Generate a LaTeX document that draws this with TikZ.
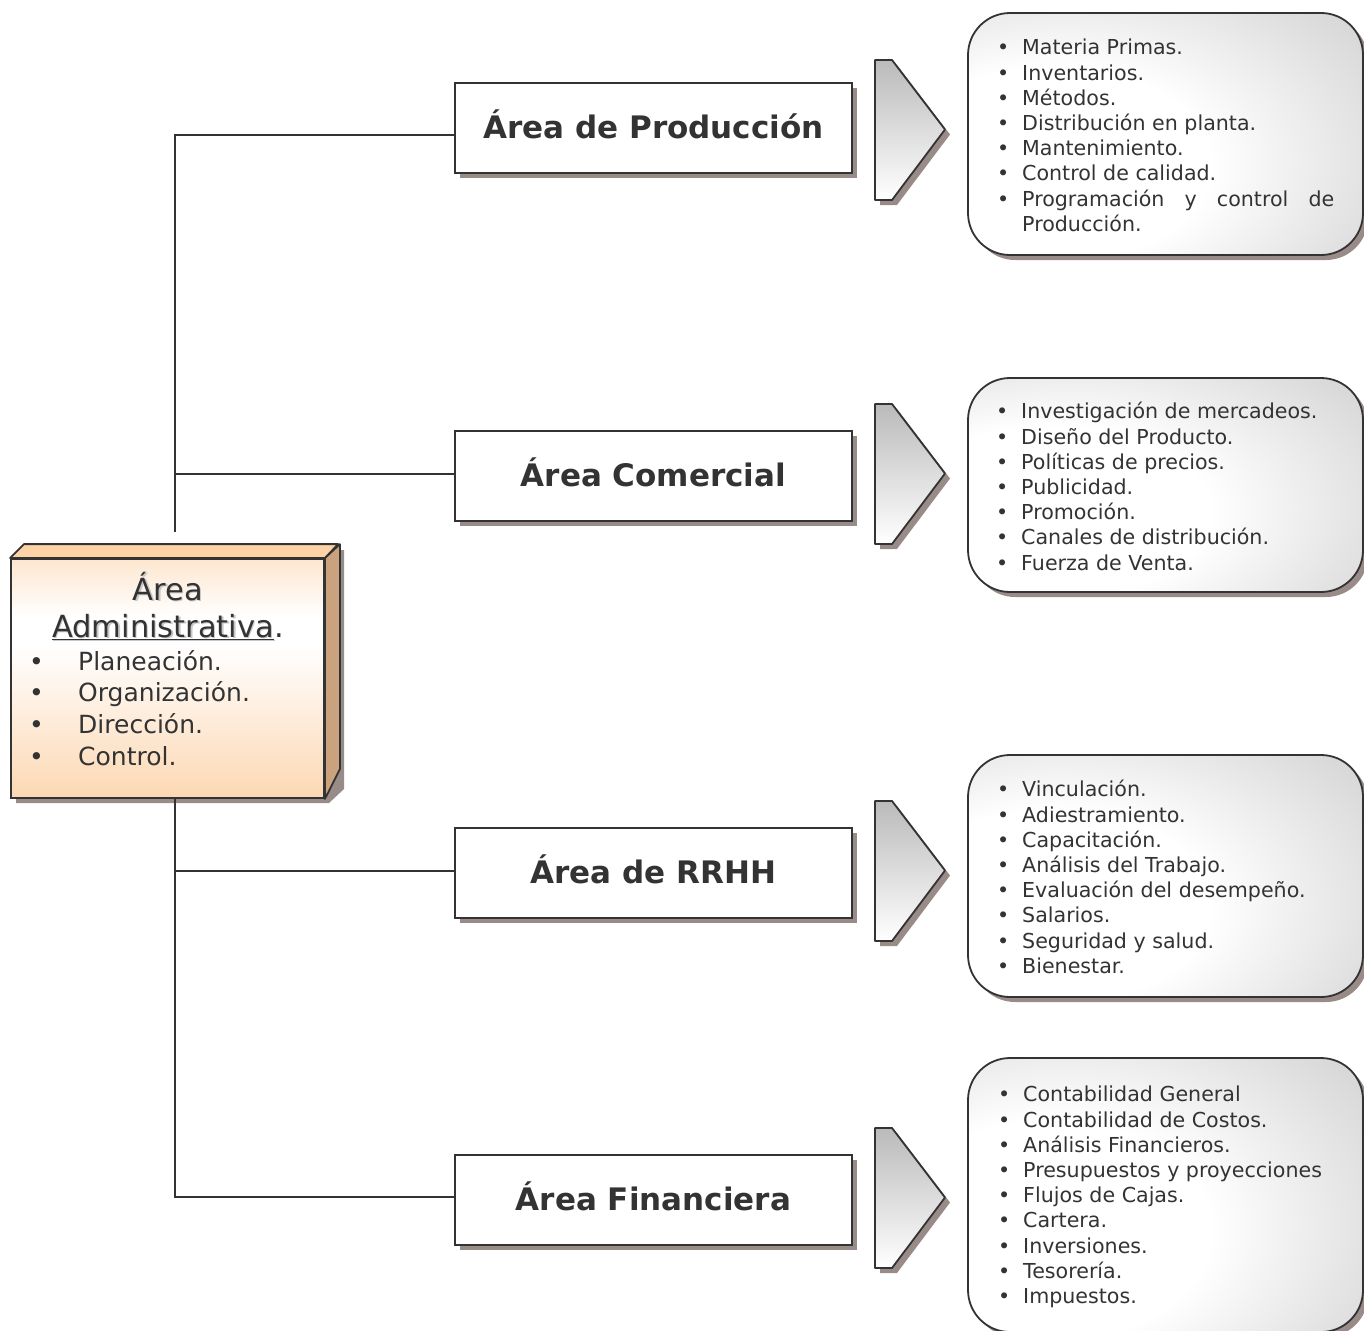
\documentclass[tikz,border=0pt]{standalone}
\usepackage{fontspec}
\setmainfont{DejaVu Sans}
\usetikzlibrary{calc,shadows}

\definecolor{ink}{HTML}{333333}
\definecolor{shadowgrey}{HTML}{998B87}
\definecolor{peach}{HTML}{FBC894}
\definecolor{peachtop}{HTML}{FCD2A6}
\definecolor{tan}{HTML}{CBA27E}

% soft glow for the detail panels: white on the left, grey towards the edges
\pgfdeclareradialshading{panelglow}{\pgfpoint{-18bp}{-8bp}}{%
  color(0bp)=(white); color(20bp)=(white); color(62bp)=(black!28); color(100bp)=(black!28)}
% peach front face, lightest a little above the middle
\pgfdeclareverticalshading{admfill}{100bp}{%
  color(0bp)=(peach); color(12bp)=(peach); color(57bp)=(white); color(63bp)=(white);
  color(90bp)=(peach); color(100bp)=(peach)}

% bullet marker and continuation indent for the lists
\newcommand\bul{\makebox[25pt][l]{•}}
\newcommand\cont{\hspace*{25pt}}
% text with a faint offset shadow behind it
\newcommand\softtxt[1]{\makebox[0pt][l]{\raisebox{-1.3pt}{\hspace{1.3pt}\textcolor{black!22}{#1}}}#1}

\tikzset{
  shadowed/.style={drop shadow={shadow xshift=5pt, shadow yshift=-5pt, fill=shadowgrey, opacity=1}},
  areabox/.style={draw=ink, line width=1.8pt, fill=white, minimum width=397pt,
    minimum height=90pt, inner sep=0pt, text=ink, text height=20pt, text depth=0pt,
    font=\fontsize{31}{37}\selectfont\bfseries, shadowed},
  panel/.style={draw=ink, line width=1.8pt, rounded corners=42pt, shading=panelglow,
    minimum width=395pt, inner sep=0pt, shadowed},
  chevron/.style={draw=ink, line width=1.8pt, top color=black!27, bottom color=white, shadowed},
  itemlist/.style={anchor=north west, inner sep=0pt, align=left, text=ink,
    font=\fontsize{20.6}{25.2}\selectfont},
  admtxt/.style={inner sep=0pt, text=ink},
  tree/.style={draw=ink, line width=1.4pt},
}

\begin{document}
\begin{tikzpicture}[x=1pt, y=-1pt]
\useasboundingbox (0,0) rectangle (1364,1330);

% ---------- administrative block (3D box) ----------
\fill[shadowgrey] (16,564) -- (30,550) -- (344,550) -- (344,789) -- (329,803) -- (16,803) -- cycle;
\node[draw=ink, line width=1.8pt, minimum width=313pt, minimum height=239pt, inner sep=0pt,
      shading=admfill] (adm) at (167.5,678.5) {};
\draw[ink, line width=1.8pt, fill=peachtop, line join=round]
  (adm.north west) -- ++(14,-14) -- ++(314,0) -- (adm.north east) -- cycle;
\draw[ink, line width=1.8pt, fill=tan, line join=round]
  (adm.north east) -- ++(15,-14) -- ++(0,225) -- (adm.south east) -- cycle;

\node[admtxt, anchor=base, font=\fontsize{30.5}{37}\selectfont] (at1) at (168,600) {\softtxt{Área}};
\node[admtxt, anchor=base, font=\fontsize{30.5}{37}\selectfont] (at2) at (168,637)
  {\softtxt{\underline{Administrativa}}.};
\node[admtxt, anchor=base west, font=\fontsize{25}{31.7}\selectfont] (ai1) at (29,670) {\makebox[49pt][l]{•}Planeación.};
\node[admtxt, anchor=base west, font=\fontsize{25}{31.7}\selectfont] (ai2) at (29,701.5) {\makebox[49pt][l]{•}Organización.};
\node[admtxt, anchor=base west, font=\fontsize{25}{31.7}\selectfont] (ai3) at (29,733) {\makebox[49pt][l]{•}Dirección.};
\node[admtxt, anchor=base west, font=\fontsize{25}{31.7}\selectfont] (ai4) at (29,765) {\makebox[49pt][l]{•}Control.};

% ---------- area boxes ----------
\node[areabox] (hp) at (653.5,128) {Área de Producción};
\node[areabox] (hc) at (653.5,476) {Área Comercial};
\node[areabox] (hr) at (653.5,873) {Área de RRHH};
\node[areabox] (hf) at (653.5,1200) {Área Financiera};

% ---------- tree connectors ----------
\coordinate (jt) at (175,532);
\coordinate (jb) at (175,798);
\draw[tree] (jt) |- ([yshift=-7pt]hp.west);
\draw[tree] (jt) |- ([yshift=2pt]hc.west);
\draw[tree] (jb) |- ([yshift=2pt]hr.west);
\draw[tree] (jb) |- ([yshift=3pt]hf.west);

% ---------- chevrons ----------
\foreach \t in {60,404,801,1128}{
  \path[chevron, line join=round] (875,\t) -- (892,\t) -- (945,\t+69.5) -- (892,\t+140) -- (875,\t+140) -- cycle;
}

% ---------- detail panels ----------
\node[panel, minimum height=242pt] (pp) at (1165.5,134) {};
\node[panel, minimum height=214pt] (pc) at (1165.5,485) {};
\node[panel, minimum height=242pt] (pr) at (1165.5,876) {};
\node[panel, minimum height=274pt] (pf) at (1165.5,1195) {};

\node[itemlist] (lp) at (997,37) {\strut\bul Materia Primas.\\ \bul Inventarios.\\ \bul Métodos.\\
  \bul Distribución en planta.\\ \bul Mantenimiento.\\ \bul Control de calidad.\\
  \bul\makebox[312pt][l]{Programación\hfill y\hfill control\hfill de}\\ \cont Producción.};
\node[itemlist] (lc) at (996,401) {\strut\bul Investigación de mercadeos.\\ \bul Diseño del Producto.\\
  \bul Políticas de precios.\\ \bul Publicidad.\\ \bul Promoción.\\ \bul Canales de distribución.\\
  \bul Fuerza de Venta.};
\node[itemlist] (lr) at (997,779) {\strut\bul Vinculación.\\ \bul Adiestramiento.\\ \bul Capacitación.\\
  \bul Análisis del Trabajo.\\ \bul Evaluación del desempeño.\\ \bul Salarios.\\
  \bul Seguridad y salud.\\ \bul Bienestar.};
\node[itemlist] (lf) at (998,1084) {\strut\bul Contabilidad General\\ \bul Contabilidad de Costos.\\
  \bul Análisis Financieros.\\ \bul Presupuestos y proyecciones\\ \bul Flujos de Cajas.\\
  \bul Cartera.\\ \bul Inversiones.\\ \bul Tesorería.\\ \bul Impuestos.};
\end{tikzpicture}
\end{document}
